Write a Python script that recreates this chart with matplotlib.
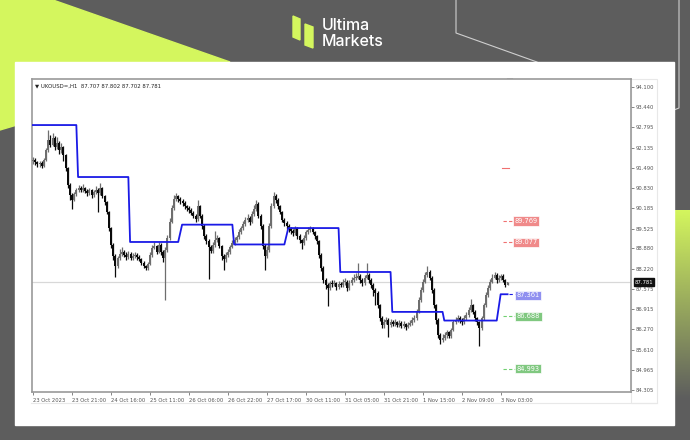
import matplotlib
matplotlib.use('Agg')
import matplotlib.pyplot as plt
from matplotlib.patches import Polygon, Rectangle
import numpy as np

# ---------------- data ----------------
first_open = 91.70
closes = [91.74, 91.68, 91.61, 91.64, 91.55, 91.74, 92.06, 92.39, 92.22, 92.45,
          92.16, 92.29, 92.06, 92.16, 91.90, 91.48, 90.93, 90.61, 90.45, 90.64,
          90.77, 90.84, 90.77, 90.84, 90.74, 90.67, 90.77, 90.61, 90.71, 90.77,
          90.67, 90.84, 90.58, 90.38, 90.06, 89.54, 88.99, 88.64, 88.31, 88.57,
          88.70, 88.77, 88.67, 88.60, 88.70, 88.57, 88.64, 88.67, 88.60, 88.54,
          88.41, 88.31, 88.25, 88.38, 88.67, 88.90, 88.96, 88.77, 88.99, 88.77,
          88.57, 88.83, 89.22, 89.74, 90.19, 90.48, 90.58, 90.48, 90.41, 90.35,
          90.25, 90.19, 90.12, 90.03, 89.93, 89.83, 90.25, 89.93, 89.61, 89.28,
          89.12, 88.93, 88.80, 88.99, 89.15, 89.22, 88.96, 88.64, 88.54, 88.67,
          88.77, 88.93, 89.06, 89.15, 89.25, 89.41, 89.54, 89.67, 89.80, 89.87,
          89.74, 89.99, 90.16, 90.32, 89.93, 89.61, 88.96, 88.64, 88.83, 89.61,
          90.25, 90.58, 90.45, 90.25, 90.06, 89.80, 89.70, 89.61, 89.51, 89.44,
          89.38, 89.54, 89.28, 89.15, 89.06, 89.22, 89.41, 89.48, 89.54, 89.41,
          89.28, 89.12, 88.67, 88.25, 87.86, 87.70, 87.60, 87.76, 87.73, 87.76,
          87.63, 87.73, 87.70, 87.80, 87.80, 87.60, 87.76, 87.86, 87.93, 87.93,
          87.99, 87.86, 87.76, 87.93, 88.02, 87.86, 87.70, 87.54, 87.44, 87.05,
          86.63, 86.41, 86.50, 86.57, 86.41, 86.50, 86.44, 86.50, 86.41, 86.47,
          86.37, 86.44, 86.34, 86.41, 86.47, 86.57, 86.63, 86.83, 87.21, 87.54,
          87.80, 88.02, 88.12, 87.93, 87.54, 87.05, 86.57, 86.08, 85.92, 85.99,
          86.08, 86.18, 86.05, 86.24, 86.50, 86.57, 86.63, 86.57, 86.50, 86.63,
          86.73, 86.89, 87.05, 86.83, 86.63, 86.50, 86.31, 86.63, 87.05, 87.38,
          87.60, 87.80, 87.93, 88.02, 87.86, 87.93, 87.99, 87.86, 87.707, 87.781]
highs = [91.85, 91.80, 91.72, 91.70, 91.72, 91.80, 92.12, 92.72, 92.55, 92.62,
         92.50, 92.48, 92.35, 92.30, 92.20, 91.95, 91.52, 91.00, 90.66, 90.72,
         90.85, 90.93, 90.90, 90.95, 90.88, 90.80, 90.85, 90.80, 90.78, 90.90,
         90.82, 91.00, 90.88, 90.62, 90.42, 90.10, 89.58, 89.05, 88.70, 88.65,
         88.85, 88.92, 88.82, 88.75, 88.80, 88.76, 88.72, 88.76, 88.72, 88.66,
         88.58, 88.46, 88.36, 88.45, 88.75, 88.98, 89.08, 89.00, 89.10, 89.05,
         88.82, 88.92, 89.30, 89.85, 90.30, 90.62, 90.68, 90.62, 90.55, 90.48,
         90.40, 90.30, 90.25, 90.18, 90.08, 89.98, 90.45, 90.30, 89.98, 89.66,
         89.34, 89.18, 89.00, 89.08, 89.45, 89.32, 89.26, 89.00, 88.70, 88.75,
         88.85, 89.00, 89.14, 89.24, 89.32, 89.50, 89.62, 89.78, 89.90, 89.98,
         89.92, 90.08, 90.28, 90.45, 90.38, 89.98, 89.66, 89.02, 88.95, 89.70,
         90.35, 90.70, 90.64, 90.50, 90.30, 90.10, 89.86, 89.76, 89.66, 89.58,
         89.52, 89.62, 89.58, 89.34, 89.20, 89.30, 89.48, 89.56, 89.62, 89.58,
         89.46, 89.32, 89.16, 88.72, 88.30, 87.92, 87.76, 87.84, 87.85, 87.86,
         87.80, 87.82, 87.80, 87.90, 87.92, 87.85, 87.85, 87.95, 88.05, 88.10,
         88.42, 88.05, 87.92, 88.02, 88.42, 88.10, 87.92, 87.75, 87.60, 87.50,
         87.10, 86.70, 86.60, 86.68, 86.62, 86.60, 86.56, 86.60, 86.55, 86.56,
         86.52, 86.52, 86.48, 86.50, 86.56, 86.65, 86.72, 86.92, 87.30, 87.62,
         87.90, 88.12, 88.30, 88.20, 87.98, 87.60, 87.10, 86.62, 86.15, 86.10,
         86.18, 86.26, 86.22, 86.32, 86.58, 86.66, 86.72, 86.70, 86.62, 86.72,
         86.82, 86.98, 87.25, 87.10, 86.88, 86.68, 86.55, 86.70, 87.12, 87.46,
         87.70, 87.90, 88.05, 88.12, 88.08, 88.02, 88.06, 88.04, 87.90, 87.802]
lows = [91.62, 91.58, 91.52, 91.50, 91.48, 91.52, 91.70, 92.00, 92.15, 92.18,
        92.05, 92.10, 91.95, 91.98, 91.70, 91.40, 90.85, 90.45, 90.15, 90.40,
        90.58, 90.72, 90.70, 90.72, 90.66, 90.58, 90.60, 90.52, 90.55, 90.65,
        90.05, 90.62, 90.50, 90.28, 89.98, 89.45, 88.90, 88.50, 87.95, 88.25,
        88.52, 88.65, 88.60, 88.52, 88.55, 88.50, 88.52, 88.58, 88.52, 88.46,
        88.34, 88.24, 88.18, 88.20, 88.34, 88.62, 88.85, 88.70, 88.72, 88.68,
        88.45, 87.22, 88.78, 89.15, 89.70, 90.12, 90.40, 90.38, 90.32, 90.25,
        90.15, 90.08, 90.02, 89.95, 89.85, 89.72, 89.78, 89.85, 89.52, 89.18,
        89.02, 87.88, 88.72, 88.74, 88.92, 89.08, 88.88, 88.50, 88.20, 88.45,
        88.60, 88.70, 88.88, 89.00, 89.08, 89.18, 89.35, 89.48, 89.60, 89.74,
        89.65, 89.70, 89.94, 90.10, 89.85, 89.50, 88.85, 88.20, 88.58, 88.78,
        89.55, 90.20, 90.36, 90.15, 89.98, 89.72, 89.62, 89.52, 89.42, 89.36,
        89.28, 89.32, 89.20, 89.06, 88.85, 89.00, 89.16, 89.35, 89.42, 89.34,
        89.20, 89.04, 88.58, 88.15, 87.78, 87.58, 87.02, 87.55, 87.62, 87.66,
        87.55, 87.58, 87.62, 87.65, 87.70, 87.52, 87.55, 87.70, 87.80, 87.85,
        87.88, 87.78, 87.68, 87.70, 87.88, 87.78, 87.60, 87.35, 87.05, 86.95,
        86.52, 86.32, 86.30, 86.45, 86.02, 86.35, 86.36, 86.38, 86.33, 86.35,
        86.30, 86.32, 86.26, 86.30, 86.36, 86.42, 86.50, 86.58, 86.78, 87.15,
        87.48, 87.75, 87.95, 87.85, 87.45, 86.95, 86.45, 85.98, 85.78, 85.85,
        85.92, 86.00, 85.98, 86.00, 86.20, 86.44, 86.50, 86.48, 86.42, 86.45,
        86.58, 86.66, 86.82, 86.75, 86.55, 86.40, 85.72, 86.25, 86.58, 86.98,
        87.32, 87.55, 87.75, 87.88, 87.78, 87.80, 87.86, 87.80, 87.65, 87.702]

# blue step line: (first bar, last bar, level)
step_starts = [0, 21, 45, 69, 93, 118, 142, 166, 190, 216]
step_ends = [20, 44, 67, 92, 116, 141, 165, 189, 214, 219]
step_levels = [92.87, 91.19, 89.09, 89.65, 89.01, 89.54, 88.12, 86.83, 86.55, 87.40]

ytick_vals = [94.100, 93.440, 92.795, 92.135, 91.490, 90.830, 90.185, 89.525,
              88.880, 88.220, 87.575, 86.915, 86.270, 85.610, 84.965, 84.305]
xtick_labels = ['23 Oct 2023', '23 Oct 21:00', '24 Oct 16:00', '25 Oct 11:00',
                '26 Oct 06:00', '26 Oct 22:00', '27 Oct 17:00', '30 Oct 11:00',
                '31 Oct 05:00', '31 Oct 21:00', '1 Nov 15:00', '2 Nov 09:00',
                '3 Nov 03:00']
bars_per_label = 18

last_price = 87.781
title_text = '\u25bc UKOUSD=,H1  87.707 87.802 87.702 87.781'
red_levels = [89.769, 89.077]
red_marker = 91.49
blue_label = 87.361
green_levels = [86.688, 84.993]

# ---------------- figure ----------------
W, H = 690, 440
fig = plt.figure(figsize=(6.9, 4.4), dpi=100)
bg = fig.add_axes([0, 0, 1, 1])
bg.set_xlim(0, W); bg.set_ylim(H, 0); bg.axis('off')
bg.add_patch(Rectangle((0, 0), W, H, color='#5d5d5d', zorder=0))
lime = '#d4f65e'
bg.add_patch(Polygon([(0, 0), (53, 0), (230, 62), (0, 130)], closed=True, color=lime, zorder=1))
# right gradient
grad = np.zeros((100, 2, 4))
c = matplotlib.colors.to_rgba(lime)
grad[..., 0], grad[..., 1], grad[..., 2] = c[0], c[1], c[2]
grad[..., 3] = np.linspace(1, 0, 100)[:, None]
bg.imshow(grad, extent=(660, 690, 400, 210), aspect='auto', zorder=1, interpolation='bilinear')
bg.set_xlim(0, W); bg.set_ylim(H, 0)
# top-right thin lines
bg.plot([456, 456, 537], [0, 33, 62], color='#cfcfcf', lw=0.8, zorder=2)
bg.plot([679, 679, 674], [0, 108, 110], color='#cfcfcf', lw=0.8, zorder=2)
# logo
bg.add_patch(Polygon([(293, 16), (300, 19), (300, 40), (293, 37)], closed=True, color=lime, zorder=3))
bg.add_patch(Polygon([(305, 24), (313, 27), (313, 48), (305, 45)], closed=True, color=lime, zorder=3))
bg.text(322, 25, 'Ultima', color='white', fontsize=11.5, family='Inter', weight='medium',
        va='center', ha='left', zorder=3)
bg.text(322, 41, 'Markets', color='white', fontsize=11.5, family='Inter', weight='medium',
        va='center', ha='left', zorder=3)
# white panel
bg.add_patch(Rectangle((15, 62), 659, 363, color='white', zorder=2))
# price-axis frame
bg.add_patch(Rectangle((631, 79), 26, 324, fill=False, ec='#e8e8e8', lw=0.8, zorder=3))
bg.plot([31, 657], [403, 403], color='#e8e8e8', lw=0.8, zorder=3)

# chart axes
px = 2.167
x_left = -1 / px
x_right = x_left + (631 - 32) / px
ppu = 303 / (94.100 - 84.305)
y_top = 94.100 + 8 / ppu
y_bot = 94.100 - 305 / ppu
ax = fig.add_axes([32 / W, (H - 392) / H, (631 - 32) / W, (392 - 79) / H])
ax.set_xlim(x_left, x_right)
ax.set_ylim(y_bot, y_top)
ax.set_facecolor('white')

opens = [first_open] + closes[:-1]
idx = np.arange(len(closes))
o = np.array(opens); cl = np.array(closes)
bull = cl >= o
cols = np.where(bull, '#6e6e6e', '#0a0a0a')
ax.vlines(idx, lows, highs, colors=cols, lw=0.9, zorder=3)
ax.bar(idx, np.maximum(np.abs(cl - o), 0.02), bottom=np.minimum(o, cl), width=0.85,
       color=cols, lw=0, zorder=4)

# blue step line
sx, sy = [], []
for s, e, lv in zip(step_starts, step_ends, step_levels):
    sx += [s - 0.2, e]
    sy += [lv, lv]
ax.plot(sx, sy, color='#1a1ae6', lw=1.3, zorder=5)

# current price line
ax.axhline(last_price, color='#d8d8d8', lw=0.9, zorder=1)

# labels
def tag(y, text, fc, lc, x0, x1, xc):
    ax.plot([x0, x1], [y, y], color=lc, lw=0.8, ls=(0, (3, 2)), zorder=5)
    ax.text(xc, y, text, fontsize=4.8, color='white', ha='center', va='center',
            zorder=6, bbox=dict(boxstyle='square,pad=0.25', fc=fc, ec='white', lw=0.5))

for lv in red_levels:
    tag(lv, f'{lv:.3f}', '#f08a8a', '#f07070', 217, 222, 227.5)
ax.plot([216.5, 219.5], [red_marker, red_marker], color='#f07070', lw=0.8, zorder=5)
ax.plot([219.5, 223], [step_levels[-1], step_levels[-1]], color='#1a1ae6', lw=0.8,
        ls=(0, (3, 2)), zorder=5)
ax.text(228.5, blue_label, f'{blue_label:.3f}', fontsize=4.8, color='white', ha='center',
        va='center', zorder=6, bbox=dict(boxstyle='square,pad=0.25', fc='#9090f0', ec='white', lw=0.5))
for lv in green_levels:
    tag(lv, f'{lv:.3f}', '#80c880', '#70d070', 217, 223, 228.5)

# ticks
ax.yaxis.tick_right()
ax.set_yticks(ytick_vals)
ax.set_yticklabels([f'{v:.3f}' for v in ytick_vals])
ax.set_xticks(np.arange(len(xtick_labels)) * bars_per_label)
ax.set_xticklabels(xtick_labels, ha='left')
ax.tick_params(axis='both', labelsize=3.8, colors='#555555', length=2, width=0.5, pad=1.5)
ax.tick_params(axis='x', pad=2)
for sp in ax.spines.values():
    sp.set_color('#9a9a9a'); sp.set_linewidth(1.2)

# title
ax.text(0.005, 0.985, title_text, transform=ax.transAxes, fontsize=3.9, color='#222222',
        ha='left', va='top', zorder=6)

# last price box on axis
bg.text(644, 282, f'{last_price:.3f}', fontsize=3.9, color='white', ha='center', va='center', zorder=7,
        bbox=dict(boxstyle='square,pad=0.2', fc='#101010', ec='#101010'))
# shift marker, >> box
bg.add_patch(Polygon([(507, 79), (513, 79), (510, 82)], closed=True, color='#a0a0a0', zorder=7))
bg.add_patch(Rectangle((33, 377), 10, 12, fc='#9a9a9a', ec='#c8b040', lw=0.8, zorder=7))
bg.text(38, 383.5, '>>', fontsize=4, color='white', ha='center', va='center', zorder=8)
bg.plot([500, 506], [391, 391], color='#40c040', lw=1.2, zorder=7)

fig.savefig('out.png', dpi=100)
